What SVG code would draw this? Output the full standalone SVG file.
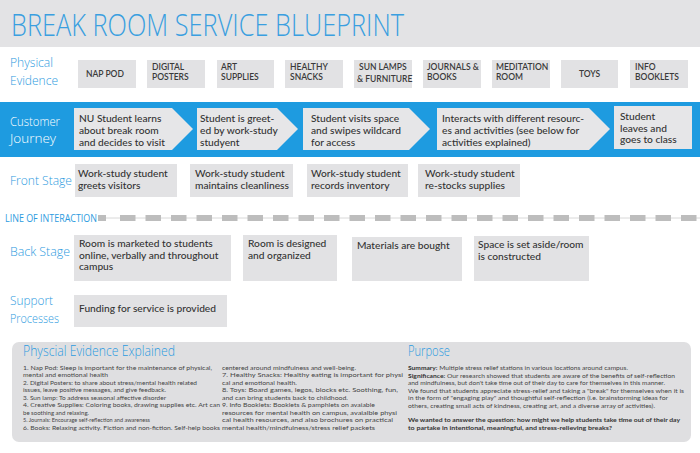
<svg xmlns="http://www.w3.org/2000/svg" width="700" height="453" viewBox="0 0 700 453">
  <style>
    .lbl { font-family: "Open Sans", "DejaVu Sans", sans-serif; font-weight: 300; font-size: 13px; fill: #2d9be0; }
    .box { fill: #e2e2e4; }
    .pe { font-family: Lato, "Liberation Sans", sans-serif; font-size: 8.5px; font-weight: 600; fill: #3a3a3a; }
    .t { font-family: Lato, "Liberation Sans", sans-serif; font-size: 10.2px; font-weight: 500; fill: #333; }
    .body { font-family: Lato, "Liberation Sans", sans-serif; font-size: 6.3px; fill: #454545; }
    .b { font-weight: 700; fill: #333; }
    .head { font-family: "Open Sans", "DejaVu Sans", sans-serif; font-weight: 300; font-size: 15px; fill: #2d9be0; }
  </style>

  <!-- page background and title band -->
  <rect x="0" y="0" width="700" height="453" fill="#ffffff"/>
  <rect x="0" y="0" width="700" height="47" fill="#e3e3e5"/>
  <text x="11" y="36" font-family="Open Sans, DejaVu Sans, sans-serif" font-weight="300" font-size="32" fill="#3a9fe0" textLength="393" lengthAdjust="spacingAndGlyphs">BREAK ROOM SERVICE BLUEPRINT</text>

  <!-- Physical evidence row -->
  <g id="row-physical-evidence">
    <text class="lbl" x="10" y="67" textLength="43" lengthAdjust="spacingAndGlyphs">Physical</text>
    <text class="lbl" x="10" y="84.5" textLength="48" lengthAdjust="spacingAndGlyphs">Evidence</text>
  </g>
  <g id="pe-nap-pod"><rect class="box" x="78" y="60" width="58" height="28"/><text class="pe" x="86" y="77">NAP POD</text></g>
  <g id="pe-digital-posters"><rect class="box" x="147" y="60" width="58" height="28"/><text class="pe" x="152" y="70">DIGITAL</text><text class="pe" x="152" y="80">POSTERS</text></g>
  <g id="pe-art-supplies"><rect class="box" x="217" y="60" width="57" height="28"/><text class="pe" x="221" y="70">ART</text><text class="pe" x="221" y="80">SUPPLIES</text></g>
  <g id="pe-healthy-snacks"><rect class="box" x="285" y="60" width="58" height="28"/><text class="pe" x="290" y="70">HEALTHY</text><text class="pe" x="290" y="80">SNACKS</text></g>
  <g id="pe-sun-lamps"><rect class="box" x="354" y="60" width="58" height="28"/><text class="pe" x="359" y="70">SUN LAMPS</text><text class="pe" x="357" y="82">&amp; FURNITURE</text></g>
  <g id="pe-journals"><rect class="box" x="423" y="60" width="58" height="28"/><text class="pe" x="427" y="70">JOURNALS &amp;</text><text class="pe" x="427" y="80">BOOKS</text></g>
  <g id="pe-meditation"><rect class="box" x="492" y="60" width="58" height="28"/><text class="pe" x="496" y="70">MEDITATION</text><text class="pe" x="496" y="80">ROOM</text></g>
  <g id="pe-toys"><rect class="box" x="561" y="60" width="57" height="28"/><text class="pe" x="589.5" y="77" text-anchor="middle">TOYS</text></g>
  <g id="pe-info-booklets"><rect class="box" x="630" y="60" width="58" height="28"/><text class="pe" x="635" y="70">INFO</text><text class="pe" x="635" y="80">BOOKLETS</text></g>

  <!-- Customer journey band -->
  <rect x="0" y="102" width="700" height="55" fill="#1e9be0"/>
  <g id="row-customer-journey">
    <text class="lbl" x="10" y="125.5" style="fill:#ffffff" textLength="50" lengthAdjust="spacingAndGlyphs">Customer</text>
    <text class="lbl" x="10" y="143" style="fill:#ffffff" textLength="46" lengthAdjust="spacingAndGlyphs">Journey</text>
  </g>
  <g id="cj-learn">
    <polygon points="74,108 172,108 193,129 172,150 74,150" fill="#e6e6e8"/>
    <text class="t" x="79" y="122">NU Student learns</text>
    <text class="t" x="79" y="134">about break room</text>
    <text class="t" x="79" y="146">and decides to visit</text>
  </g>
  <g id="cj-greeted">
    <polygon points="197,108 277,108 298,129 277,150 197,150" fill="#e6e6e8"/>
    <text class="t" x="200" y="122">Student is greet-</text>
    <text class="t" x="200" y="134">ed by work-study</text>
    <text class="t" x="200" y="146">studyent</text>
  </g>
  <g id="cj-visit">
    <polygon points="303,108 409,108 430,129 409,150 303,150" fill="#e6e6e8"/>
    <text class="t" x="311" y="122">Student visits space</text>
    <text class="t" x="311" y="134">and swipes wildcard</text>
    <text class="t" x="311" y="146">for access</text>
  </g>
  <g id="cj-interact">
    <polygon points="437,108 589,108 610,129 589,150 437,150" fill="#e6e6e8"/>
    <text class="t" x="442" y="122">Interacts with different resourc-</text>
    <text class="t" x="442" y="134">es and activities (see below for</text>
    <text class="t" x="442" y="146">activities explained)</text>
  </g>
  <g id="cj-leave">
    <rect x="614" y="106" width="78" height="43" fill="#e6e6e8"/>
    <text class="t" x="620" y="120">Student</text>
    <text class="t" x="620" y="131.5">leaves and</text>
    <text class="t" x="620" y="143">goes to class</text>
  </g>

  <!-- Front stage row -->
  <g id="row-front-stage"><text class="lbl" x="10" y="185" textLength="62" lengthAdjust="spacingAndGlyphs">Front Stage</text></g>
  <g id="fs-greets"><rect class="box" x="75" y="164" width="102" height="33"/><text class="t" x="78" y="177">Work-study student</text><text class="t" x="78" y="189">greets visitors</text></g>
  <g id="fs-clean"><rect class="box" x="190" y="164" width="103" height="33"/><text class="t" x="195" y="177">Work-study student</text><text class="t" x="195" y="189">maintains cleanliness</text></g>
  <g id="fs-inventory"><rect class="box" x="307" y="164" width="101" height="33"/><text class="t" x="311" y="177">Work-study student</text><text class="t" x="311" y="189">records inventory</text></g>
  <g id="fs-restock"><rect class="box" x="418" y="164" width="102" height="33"/><text class="t" x="425" y="177">Work-study student</text><text class="t" x="425" y="189">re-stocks supplies</text></g>

  <!-- Line of interaction -->
  <g id="line-of-interaction">
    <text x="5" y="222" font-family="Open Sans, DejaVu Sans, sans-serif" font-weight="400" font-size="11" fill="#2d9be0" textLength="92" lengthAdjust="spacingAndGlyphs">LINE OF INTERACTION</text>
    <line x1="98" y1="218" x2="700" y2="218" stroke="#d8d8d8" stroke-width="1"/>
    <rect x="98" y="215" width="8" height="6" fill="#bdbdbd"/>
    <line x1="120" y1="218" x2="700" y2="218" stroke="#bdbdbd" stroke-width="6" stroke-dasharray="15.5 10"/>
  </g>

  <!-- Back stage row -->
  <g id="row-back-stage"><text class="lbl" x="10" y="256" textLength="60" lengthAdjust="spacingAndGlyphs">Back Stage</text></g>
  <g id="bs-marketed"><rect class="box" x="74" y="235" width="157" height="46"/><text class="t" x="79" y="247">Room is marketed to students</text><text class="t" x="79" y="258.5">online, verbally and throughout</text><text class="t" x="79" y="270">campus</text></g>
  <g id="bs-designed"><rect class="box" x="243" y="235" width="94" height="46"/><text class="t" x="248" y="247">Room is designed</text><text class="t" x="248" y="258.5">and organized</text></g>
  <g id="bs-materials"><rect class="box" x="352" y="237" width="110" height="44"/><text class="t" x="357" y="249">Materials are bought</text></g>
  <g id="bs-space"><rect class="box" x="474" y="236" width="115" height="45"/><text class="t" x="478" y="248">Space is set aside/room</text><text class="t" x="478" y="259.5">is constructed</text></g>

  <!-- Support processes row -->
  <g id="row-support">
    <text class="lbl" x="10" y="305" textLength="43" lengthAdjust="spacingAndGlyphs">Support</text>
    <text class="lbl" x="10" y="322.5" textLength="49" lengthAdjust="spacingAndGlyphs">Processes</text>
  </g>
  <g id="sp-funding"><rect class="box" x="74" y="295" width="153" height="32"/><text class="t" x="79" y="312">Funding for service is provided</text></g>

  <!-- Explanation panel -->
  <g id="panel-explained">
    <rect x="12" y="342" width="679" height="100" rx="7" fill="#dfdfe1"/>
    <text class="head" x="23" y="356" textLength="152" lengthAdjust="spacingAndGlyphs">Physcial Evidence Explained</text>
    <g class="body">
      <text x="23" y="369.5" textLength="189" lengthAdjust="spacingAndGlyphs">1. Nap Pod: Sleep is important for the maintenance of physical,</text>
      <text x="23" y="377" textLength="85" lengthAdjust="spacingAndGlyphs">mental and emotional health</text>
      <text x="23" y="384.5" textLength="174" lengthAdjust="spacingAndGlyphs">2. Digital Posters: to share about stress/mental health related</text>
      <text x="23" y="392" textLength="143" lengthAdjust="spacingAndGlyphs">issues, leave positive messages, and give feedback.</text>
      <text x="23" y="399.5" textLength="143" lengthAdjust="spacingAndGlyphs">3. Sun lamp: To address seasonal affective disorder</text>
      <text x="23" y="407" textLength="197" lengthAdjust="spacingAndGlyphs">4. Creative Supplies: Coloring books, drawing supplies etc. Art can</text>
      <text x="23" y="414.5" textLength="66" lengthAdjust="spacingAndGlyphs">be soothing and relaxing.</text>
      <text x="23" y="422" textLength="127" lengthAdjust="spacingAndGlyphs">5. Journals: Encourage self-reflection and awareness</text>
      <text x="23" y="429.5" textLength="197" lengthAdjust="spacingAndGlyphs">6. Books: Relaxing activity. Fiction and non-fiction. Self-help books</text>

      <text x="222" y="369.5" textLength="134" lengthAdjust="spacingAndGlyphs">centered around mindfulness and well-being.</text>
      <text x="222" y="377" textLength="181" lengthAdjust="spacingAndGlyphs">7. Healthy Snacks: Healthy eating is important for physi</text>
      <text x="222" y="384.5" textLength="75" lengthAdjust="spacingAndGlyphs">cal and emotional health.</text>
      <text x="222" y="392" textLength="176" lengthAdjust="spacingAndGlyphs">8. Toys: Board games, legos, blocks etc. Soothing, fun,</text>
      <text x="222" y="399.5" textLength="126" lengthAdjust="spacingAndGlyphs">and can bring students back to childhood.</text>
      <text x="222" y="407" textLength="153" lengthAdjust="spacingAndGlyphs">9. Info Booklets: Booklets &amp; pamphlets on avaiable</text>
      <text x="222" y="414.5" textLength="175" lengthAdjust="spacingAndGlyphs">resources for mental health on campus, avaialble physi</text>
      <text x="222" y="422" textLength="171" lengthAdjust="spacingAndGlyphs">cal health resources, and also brochures on practical</text>
      <text x="222" y="429.5" textLength="153" lengthAdjust="spacingAndGlyphs">mental health/mindfulness/stress relief packets</text>
    </g>

    <text class="head" x="408" y="356" textLength="42" lengthAdjust="spacingAndGlyphs">Purpose</text>
    <g class="body">
      <text x="408" y="370" textLength="220" lengthAdjust="spacingAndGlyphs"><tspan class="b">Summary:</tspan> Multiple stress relief stations in various locations around campus.</text>
      <text x="408" y="377.5" textLength="267" lengthAdjust="spacingAndGlyphs"><tspan class="b">Significance:</tspan> Our research showed that students are aware of the benefits of self-reflection</text>
      <text x="408" y="385" textLength="257" lengthAdjust="spacingAndGlyphs">and mindfulness, but don't take time out of their day to care for themselves in this manner.</text>
      <text x="408" y="392.5" textLength="276" lengthAdjust="spacingAndGlyphs">We found that students appreciate stress-relief and taking a "break" for themselves when it is</text>
      <text x="408" y="400" textLength="260" lengthAdjust="spacingAndGlyphs">in the form of "engaging play" and thoughtful self-reflection (i.e. brainstorming ideas for</text>
      <text x="408" y="407.5" textLength="247" lengthAdjust="spacingAndGlyphs">others, creating small acts of kindness, creating art, and a diverse array of activities).</text>
      <text class="b" x="408" y="422" textLength="272" lengthAdjust="spacingAndGlyphs">We wanted to answer the question: how might we help students take time out of their day</text>
      <text class="b" x="408" y="429.5" textLength="204" lengthAdjust="spacingAndGlyphs">to partake in intentional, meaningful, and stress-relieving breaks?</text>
    </g>
  </g>
</svg>
